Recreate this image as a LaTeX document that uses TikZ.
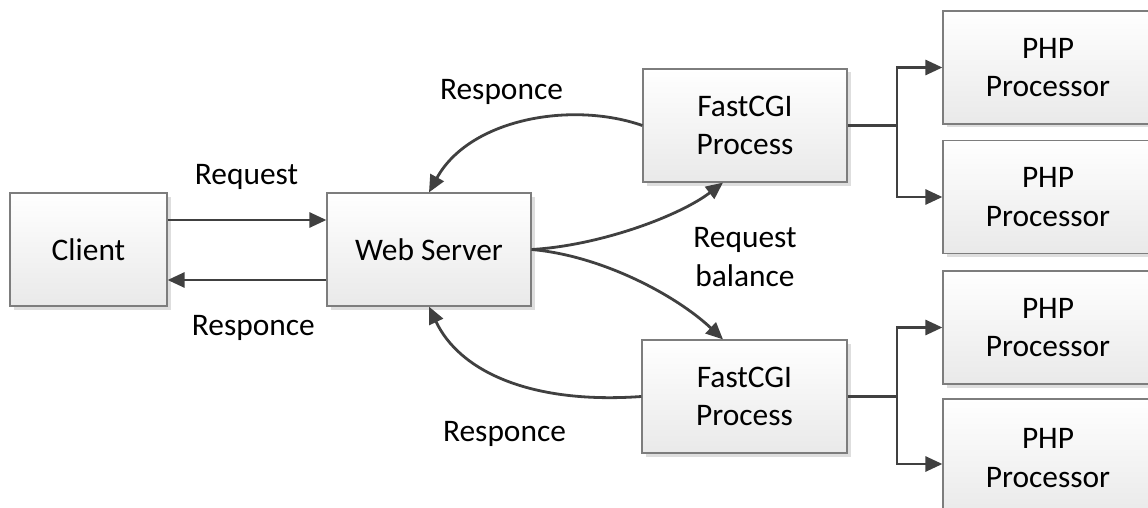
\documentclass[tikz,border=0pt]{standalone}
\usepackage{fontspec}
\setmainfont{Carlito}
\usetikzlibrary{arrows.meta,shadows}
\definecolor{linegray}{RGB}{64,64,64}
\definecolor{boxedge}{RGB}{125,125,125}
\definecolor{boxbottom}{RGB}{233,233,233}
\begin{document}
\begin{tikzpicture}[x=1pt,y=-1pt,
  txt/.style={font=\fontsize{31.4}{38.3}\selectfont},
  box/.style={txt, draw=boxedge, line width=1.2pt, top color=white, bottom color=boxbottom,
    drop shadow={shadow xshift=3.5pt,shadow yshift=-3.5pt,fill=black!13,opacity=1},
    minimum height=113pt, inner sep=0pt, align=center},
  plain/.style={draw=linegray, line width=2.8pt},
  link/.style={plain, -{Triangle[length=17pt,width=15pt]}},
  lbl/.style={txt, anchor=base, inner sep=0pt}]
\clip (0,0) rectangle (1148,508);

% boxes
\node[box, minimum width=157pt] (client) at (88.5,249.5) {Client};
\node[box, minimum width=204pt] (web) at (429,249.5) {Web Server};
\node[box, minimum width=204pt] (fcgiA) at (745,125.5) {FastCGI\\Process};
\node[box, minimum width=205pt] (fcgiB) at (744.5,396.5) {FastCGI\\Process};
\node[box, minimum width=210pt] (phpA) at (1048,67.5) {PHP\\Processor};
\node[box, minimum width=210pt] (phpB) at (1048,197) {PHP\\Processor};
\node[box, minimum width=210pt] (phpC) at (1048,327.5) {PHP\\Processor};
\node[box, minimum width=210pt, minimum height=118pt] (phpD) at (1048,458) {PHP\\Processor};

% client <-> web server
\draw[link] (client.east |- 0,220) -- (web.west |- 0,220);
\draw[link] (web.west |- 0,280) -- (client.east |- 0,280);

% responses back to the web server
\draw[link] (fcgiA.west) .. controls +(-72,-25) and +(40,-73) .. (web.north);
\draw[link] (fcgiB.west) .. controls +(-112,8) and +(30,64) .. (web.south);

% request balancing
\draw[link] (web.east) .. controls +(69,-4) and +(-43,33) .. ([xshift=-22pt]fcgiA.south);
\draw[link] (web.east) .. controls +(69,6) and +(-48,-45) .. ([xshift=-21.5pt]fcgiB.north);

% FastCGI -> PHP processors
\coordinate (jA) at (897,125.5);
\coordinate (jB) at (897,396.5);
\draw[plain] (fcgiA.east) -- (jA);
\draw[link] (jA) |- (phpA.west);
\draw[link] (jA) |- (phpB.west);
\draw[plain] (fcgiB.east) -- (jB);
\draw[link] (jB) |- (phpC.west);
\draw[link] (jB) |- ([yshift=-6pt]phpD.west);

% labels
\node[lbl] (reqL) at (246.5,184) {Request};
\node[lbl] (resL) at (253.3,335.7) {Responce};
\node[lbl] (resA) at (501.5,99.3) {Responce};
\node[lbl] (resB) at (504.5,441.7) {Responce};
\node[txt, align=center, inner sep=0pt] (bal) at (745,257) {Request\\balance};
\end{tikzpicture}
\end{document}
